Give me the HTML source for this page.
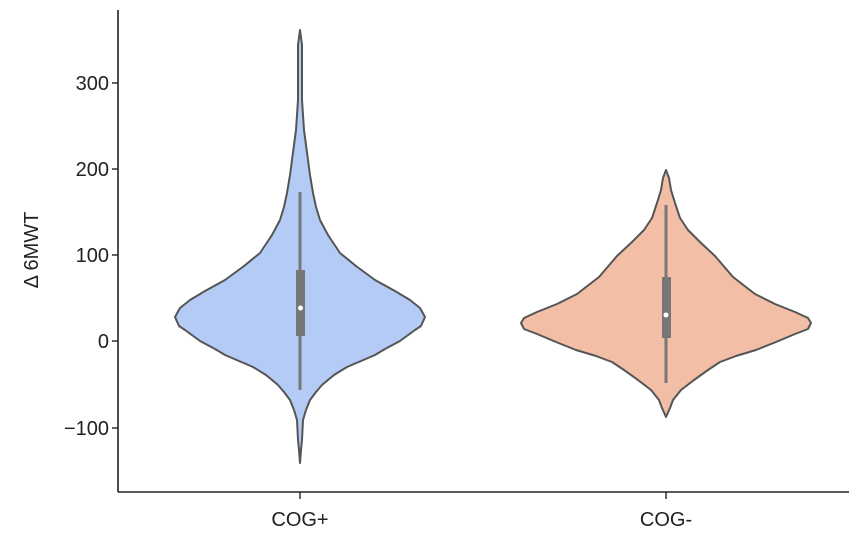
<!DOCTYPE html>
<html><head><style>body{margin:0;background:#fff}</style></head><body>
<svg width="858" height="532" viewBox="0 0 858 532" xmlns="http://www.w3.org/2000/svg" font-family="Liberation Sans, sans-serif">
<polygon stroke-linejoin="round" fill="#b3cbf5" stroke="#555" stroke-width="2" points="300,30 302,45 302,60 302,100 303,115 304,130 306,145 308,160 310,175 313,193 316,207 320,220 328,235 340,253 356,266 375,280 395,291 410,300 420,308 425,317 421,326 415,330 400,341 385,349 375,355 361,361 347,367 334,375 322,385 316,392 310,400 306,410 303,420 302,440 301,450 300,463 299,450 298,440 297,420 294,410 290,400 284,392 278,385 266,375 253,367 239,361 225,355 215,349 200,341 185,330 179,326 175,317 180,308 190,300 205,291 225,280 244,266 260,253 272,235 280,220 284,207 287,193 290,175 292,160 294,145 296,130 297,115 298,100 298,60 298,45"/>
<polygon stroke-linejoin="round" fill="#f2bea5" stroke="#555" stroke-width="2" points="666,170 669,178 671,190 675,203 680,218 688,230 700,242 715,256 733,277 755,294 775,304 795,312 808,318 811,323 808,329 795,334 776,342 756,350 736,356 720,362 708,370 694,380 681,390 673,400 670,408 666,417 662,408 659,400 651,390 638,380 624,370 612,362 596,356 576,350 556,342 537,334 524,329 521,323 524,318 537,312 557,304 577,294 599,277 617,256 632,242 644,230 652,218 657,203 661,190 663,178"/>
<line x1="300" y1="192" x2="300" y2="390" stroke="#777" stroke-width="3"/>
<rect x="296" y="270" width="9" height="66" fill="#777"/>
<circle cx="300.5" cy="308" r="2.5" fill="#fff"/>
<line x1="666" y1="205" x2="666" y2="383" stroke="#777" stroke-width="3"/>
<rect x="662" y="277" width="9" height="61" fill="#777"/>
<circle cx="666" cy="315" r="2.5" fill="#fff"/>
<line x1="118" y1="10" x2="118" y2="492" stroke="#222" stroke-width="1.6"/>
<line x1="118" y1="492" x2="849" y2="492" stroke="#222" stroke-width="1.6"/>
<g stroke="#222" stroke-width="1.4">
<line x1="112" y1="83" x2="118" y2="83"/><line x1="112" y1="169" x2="118" y2="169"/><line x1="112" y1="255" x2="118" y2="255"/><line x1="112" y1="341" x2="118" y2="341"/><line x1="112" y1="428" x2="118" y2="428"/>
<line x1="300" y1="492" x2="300" y2="499"/><line x1="666" y1="492" x2="666" y2="499"/>
</g>
<g font-size="20" fill="#222" text-anchor="end">
<text x="109" y="90">300</text><text x="109" y="176">200</text><text x="109" y="262">100</text><text x="109" y="348">0</text><text x="109" y="435">−100</text>
</g>
<g font-size="20" fill="#222" text-anchor="middle">
<text x="300" y="526">COG+</text><text x="666" y="526">COG-</text>
<text transform="translate(38,250) rotate(-90)">Δ 6MWT</text>
</g>
</svg>
</body></html>
